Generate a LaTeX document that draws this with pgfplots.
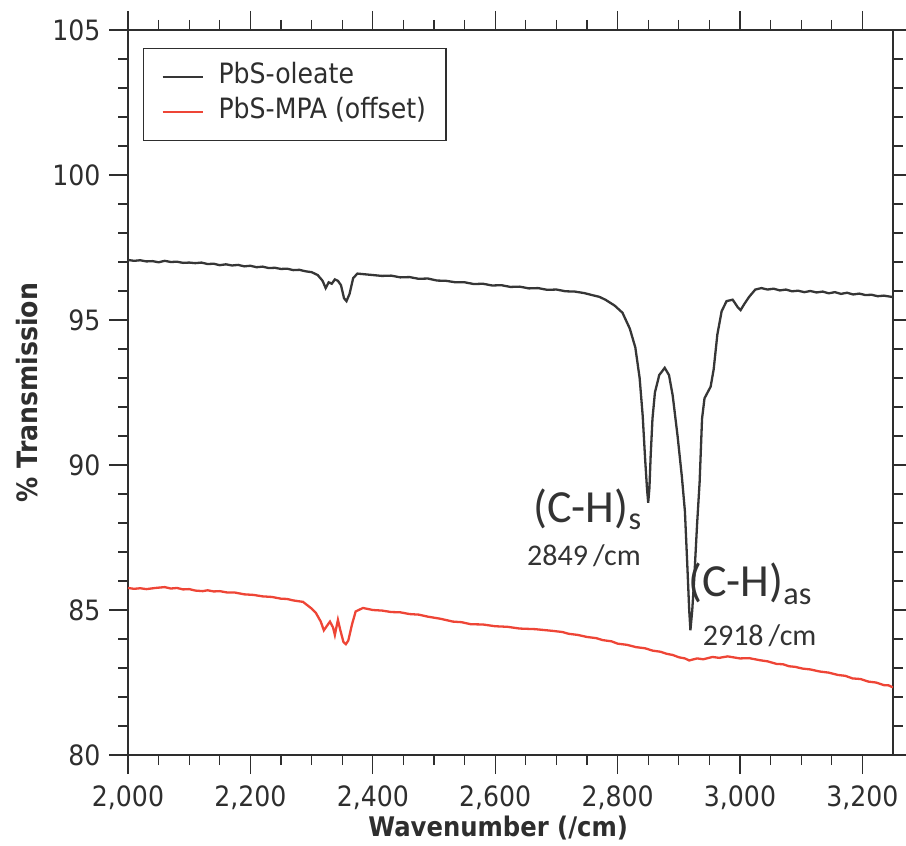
\documentclass[border=0pt]{standalone}
\usepackage{fontspec}
\setmainfont{DejaVu Sans Condensed}
\newfontfamily\calibri{Carlito}
\usepackage{pgfplots}
\pgfplotsset{compat=1.18}
\definecolor{oleate}{HTML}{363636}
\definecolor{mpa}{HTML}{EE4536}
\definecolor{axisgray}{HTML}{2E2E2E}
\begin{document}
\begin{tikzpicture}
\useasboundingbox (-128pt,-91pt) rectangle (778pt,755pt);
\begin{axis}[
  at={(0,0)}, anchor=south west,
  scale only axis,
  width=765pt, height=725pt,
  xmin=2000, xmax=3250, ymin=80, ymax=105,
  xtick={2000,2200,...,3200},
  ytick={80,85,...,105},
  minor x tick num=3,
  minor y tick num=4,
  scaled x ticks=false,
  tick align=outside,
  major tick length=19pt,
  minor tick length=10pt,
  axis line style={line width=1.5pt, axisgray},
  every tick/.style={line width=1.3pt, axisgray},
  /pgf/number format/assume math mode=true,
  /pgf/number format/1000 sep={,},
  tick label style={font=\fontsize{28}{30}\selectfont, text=axisgray},
  xticklabel style={yshift=-8pt},
  yticklabel style={xshift=-5pt},
  xlabel={\bfseries Wavenumber (/cm)},
  ylabel={\bfseries \% Transmission},
  label style={text=axisgray},
  xlabel style={font=\fontsize{27}{30}\selectfont, at={(axis description cs:0.484,-0.1007)}, anchor=center},
  ylabel style={font=\fontsize{28}{30}\selectfont, at={(axis description cs:-0.132,0.5)}, anchor=center},
  legend style={at={(axis description cs:0.0196,0.975)}, anchor=north west,
    font=\fontsize{28}{30}\selectfont, text=axisgray,
    draw=axisgray, line width=1.3pt, inner xsep=18pt, inner ysep=14pt,
    nodes={inner sep=2pt, text height=19pt, text depth=6pt},
    row sep=6pt},
  legend cell align=left,
  legend image code/.code={\draw[#1, line width=1.8pt] (0pt,0pt) -- (40pt,0pt); \path[draw=none] (0pt,0pt) -- (54pt,0pt);},
]
\addplot[color=oleate, line width=2.3pt] coordinates {
(2000,97.07)(2010,97.04)(2020,97.06)(2030,97.02)(2040,97.03)(2050,96.99)(2060,97.04)(2070,97.0)(2080,97.01)(2090,96.97)(2100,96.98)(2110,96.96)(2120,96.98)(2130,96.93)(2140,96.94)(2150,96.89)(2160,96.92)(2170,96.88)(2180,96.9)(2190,96.85)(2200,96.87)(2210,96.82)(2220,96.84)(2230,96.79)(2240,96.8)(2250,96.76)(2260,96.77)(2270,96.72)(2280,96.73)(2290,96.68)(2300,96.65)(2310,96.55)(2318,96.35)(2323,96.1)(2328,96.3)(2333,96.25)(2338,96.4)(2343,96.35)(2348,96.2)(2353,95.75)(2357,95.65)(2362,95.9)(2368,96.45)(2375,96.6)(2385,96.58)(2400,96.55)(2415,96.52)(2430,96.53)(2445,96.47)(2460,96.48)(2475,96.42)(2490,96.43)(2505,96.36)(2520,96.35)(2535,96.3)(2550,96.3)(2565,96.24)(2580,96.25)(2595,96.19)(2610,96.2)(2625,96.14)(2640,96.15)(2655,96.09)(2670,96.1)(2685,96.04)(2700,96.05)(2715,95.99)(2730,95.98)(2745,95.93)(2760,95.85)(2770,95.8)(2780,95.7)(2795,95.5)(2808,95.25)(2820,94.7)(2829,94.05)(2836,93.0)(2841,91.7)(2845,90.2)(2848,89.2)(2850,88.7)(2852,89.2)(2854,90.3)(2857,91.6)(2861,92.5)(2868,93.1)(2877,93.35)(2884,93.1)(2890,92.4)(2898,91.0)(2905,89.6)(2910,88.4)(2914,86.5)(2917,85.0)(2919,84.3)(2922,85.0)(2925,86.0)(2930,88.0)(2934,89.4)(2938,91.6)(2942,92.3)(2947,92.5)(2952,92.7)(2957,93.3)(2963,94.5)(2970,95.3)(2978,95.65)(2988,95.7)(2996,95.45)(3001,95.34)(3007,95.55)(3015,95.8)(3025,96.05)(3035,96.1)(3045,96.05)(3055,96.08)(3065,96.02)(3075,96.05)(3085,95.99)(3095,96.01)(3105,95.96)(3115,96.0)(3125,95.95)(3135,95.98)(3145,95.92)(3155,95.96)(3165,95.9)(3175,95.94)(3185,95.88)(3195,95.91)(3205,95.86)(3215,95.87)(3225,95.82)(3235,95.84)(3250,95.79)
};
\addlegendentry{PbS-oleate}
\addplot[color=mpa, line width=2.3pt] coordinates {
(2000,85.76)(2010,85.73)(2020,85.75)(2030,85.72)(2045,85.76)(2060,85.79)(2070,85.74)(2080,85.76)(2090,85.71)(2100,85.72)(2110,85.67)(2122,85.65)(2130,85.68)(2140,85.64)(2150,85.65)(2163,85.6)(2175,85.6)(2190,85.54)(2205,85.52)(2220,85.47)(2235,85.45)(2250,85.39)(2260,85.38)(2270,85.33)(2286,85.28)(2300,85.05)(2307,84.9)(2315,84.6)(2320,84.3)(2325,84.45)(2330,84.6)(2335,84.4)(2338,84.14)(2343,84.66)(2347,84.3)(2352,83.9)(2356,83.82)(2360,83.95)(2366,84.5)(2372,84.95)(2384,85.07)(2400,85.0)(2415,84.98)(2430,84.93)(2445,84.92)(2460,84.86)(2475,84.84)(2490,84.77)(2510,84.7)(2531,84.6)(2545,84.58)(2560,84.51)(2580,84.5)(2600,84.44)(2620,84.42)(2640,84.36)(2665,84.34)(2694,84.28)(2710,84.24)(2720,84.18)(2735,84.14)(2750,84.07)(2765,84.03)(2776,83.96)(2790,83.92)(2800,83.84)(2815,83.8)(2830,83.72)(2845,83.68)(2857,83.6)(2870,83.56)(2880,83.49)(2890,83.45)(2900,83.37)(2910,83.33)(2917,83.26)(2930,83.33)(2940,83.3)(2955,83.38)(2966,83.35)(2980,83.4)(3000,83.33)(3015,83.34)(3032,83.27)(3045,83.23)(3060,83.14)(3070,83.13)(3080,83.06)(3090,83.04)(3102,82.98)(3115,82.95)(3130,82.88)(3145,82.84)(3160,82.76)(3172,82.73)(3184,82.64)(3197,82.62)(3210,82.53)(3222,82.5)(3235,82.41)(3243,82.4)(3250,82.33)
};
\addlegendentry{PbS-MPA (offset)}
\node[font=\calibri\fontsize{46}{48}\selectfont, text=black!80, anchor=base west, inner sep=0pt] at (axis cs:2662,88.03) {(C-H)\textsubscript{s}};
\node[font=\calibri\fontsize{30}{32}\selectfont, text=black!80, anchor=base west, inner sep=0pt] at (axis cs:2652,86.55) {2849\,/cm};
\node[font=\calibri\fontsize{46}{48}\selectfont, text=black!80, anchor=base west, inner sep=0pt] at (axis cs:2915,85.45) {(C-H)\textsubscript{as}};
\node[font=\calibri\fontsize{30}{32}\selectfont, text=black!80, anchor=base west, inner sep=0pt] at (axis cs:2939,83.79) {2918\,/cm};
\end{axis}
\end{tikzpicture}
\end{document}
